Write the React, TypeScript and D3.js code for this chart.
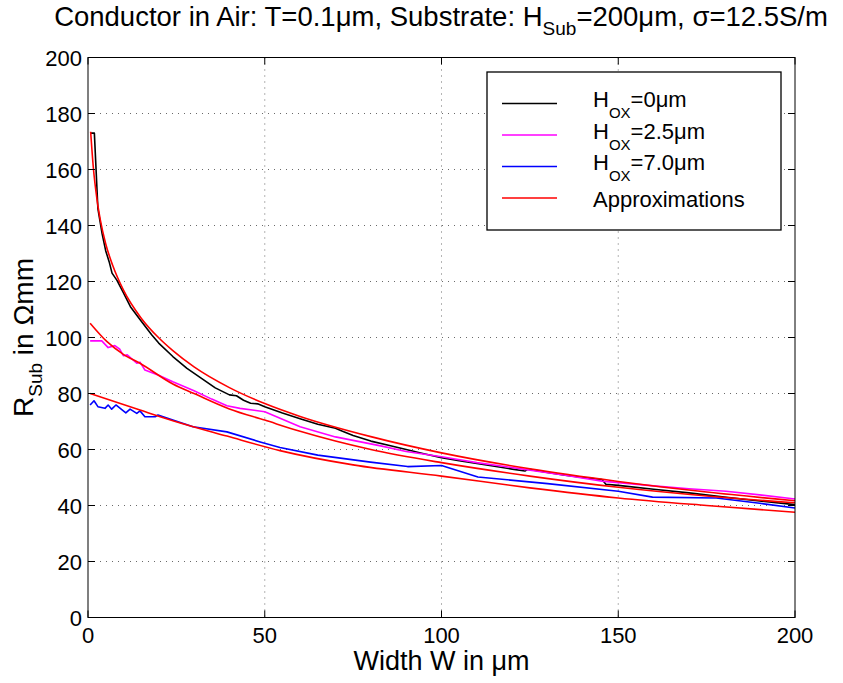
import React from "react";
import * as d3 from "d3";

// ---------- data ----------
const xTicks = [0, 50, 100, 150, 200];
const yTicks = [0, 20, 40, 60, 80, 100, 120, 140, 160, 180, 200];

const seriesNames = ["=0\u03bcm", "=2.5\u03bcm", "=7.0\u03bcm", "Approximations"];
const seriesColors = ["#000000", "#ff00ff", "#0000ff", "#ff0000"];

// H_OX = 0 um  (width W, R_sub)
const hox0: [number, number][] = [
  [0.6, 173], [1.8, 173], [2.8, 146], [4, 137], [5, 131], [6, 127], [6.8, 123],
  [8.2, 120.4], [10, 116], [12, 111], [14.7, 106.4], [18, 101], [20, 98],
  [24, 93.2], [28, 89], [32, 85.5], [36, 82], [40, 79.5], [42, 79.2], [44, 77.6],
  [46, 76.5], [48, 76.3], [50, 75.3], [55, 73], [60, 71], [65, 69], [70, 67.6],
  [72, 66.5], [75, 65], [80, 63], [85, 61.5], [90, 60], [95, 58.5], [100, 57.1],
  [105, 56], [110, 55], [115, 54], [120, 53], [123.6, 52.3], [124.5, 53],
  [130, 51.8], [135, 50.8], [140, 50], [145.4, 49.3], [146.5, 47.6], [150, 47.2],
  [160, 45.8], [170, 44.5], [180, 43], [190, 41.6], [200, 40.3],
];

// H_OX = 2.5 um
const hox25: [number, number][] = [
  [0.6, 98.8], [3.9, 98.8], [5.7, 96.4], [7.6, 97.1], [9, 95.8], [10, 93.5],
  [11.1, 93.8], [13.8, 90.8], [14.7, 91.2], [16.1, 88.4], [20, 86.5], [24, 84.2],
  [30, 81], [35, 78], [39.3, 75.6], [43, 74.7], [47, 74], [50, 73.5], [55, 70.8],
  [60, 68.1], [70, 64.5], [82.8, 61.3], [90, 59.3], [100, 57.4], [110, 55.3],
  [123.6, 52.9], [135, 50.8], [145.4, 48.7], [160, 47], [170, 46], [180.5, 45.1],
  [190, 43.8], [200, 42.3],
];

// H_OX = 7.0 um
const hox70: [number, number][] = [
  [0.6, 75.9], [1.7, 77.4], [2.8, 75.3], [4.8, 74.7], [5.7, 75.9], [6.7, 74.4],
  [7.9, 75.9], [10.7, 73.1], [11.9, 74.4], [13.8, 72.9], [14.7, 73.8], [16.1, 71.7],
  [19, 71.7], [19.8, 72.3], [24, 70.5], [29.7, 68.1], [39.3, 66.3], [48.7, 62.7],
  [54.3, 60.7], [65, 58], [79.9, 55.5], [90.4, 53.9], [100, 54.3], [110.3, 50.2],
  [130, 47.8], [150, 45.1], [159.7, 43], [177.7, 42.7], [190, 40.8], [200, 39.1],
];

// approximations
const approx0: [number, number][] = [
  [0.75, 173.5], [1.5, 160.8], [2.5, 149.7], [3.5, 141.9], [5, 133.5], [7, 125.7],
  [10, 117], [15, 107], [20, 99.9], [24, 95.3], [30, 89.5], [40, 82.1], [50, 76.4],
  [60, 71.8], [80, 64.6], [100, 58.8], [125, 53.1], [150, 48.6], [175, 44.8], [200, 41.7],
];
const approx25: [number, number][] = [
  [0.6, 105.1], [5.3, 98.6], [10, 94], [14.7, 90.8], [24, 83.4], [30, 80],
  [40, 74.5], [50, 70.5], [60, 66.5], [80, 60], [100, 55.3], [125, 50.5],
  [150, 46.5], [175, 43.4], [200, 41],
];
const approx70: [number, number][] = [
  [0.6, 80], [14.7, 74.1], [24, 70.3], [39.3, 64.8], [54.3, 59.6], [75, 54.5],
  [100, 50.5], [125, 46.3], [150, 42.7], [175, 40], [200, 37.6],
];

const FONT = "'Liberation Sans', Arial, Helvetica, sans-serif";

export default function App() {
  const width = 843;
  const height = 683;
  const left = 88, right = 795, top = 57.5, bottom = 617.5;

  const x = d3.scaleLinear().domain([0, 200]).range([left, right]);
  const y = d3.scaleLinear().domain([0, 200]).range([bottom, top]);

  const lin = d3.line<[number, number]>().x((d) => x(d[0])).y((d) => y(d[1]));
  const smooth = d3
    .line<[number, number]>()
    .x((d) => x(d[0]))
    .y((d) => y(d[1]))
    .curve(d3.curveMonotoneX);

  const tickLen = 7;
  const legX = 487, legY = 72, legW = 294, legH = 158;
  const rowY = [103.5, 135, 166.5, 198];

  return (
    <svg
      width={width}
      height={height}
      style={{ position: "absolute", left: 0, top: 0, background: "#fff" }}
      fontFamily={FONT}
    >
      <rect x={0} y={0} width={width} height={height} fill="#fff" />

      {/* grid */}
      <g stroke="#444" strokeWidth={0.8} strokeDasharray="1 5">
        {xTicks.slice(1, -1).map((t) => (
          <line key={"gx" + t} x1={x(t)} x2={x(t)} y1={top} y2={bottom} />
        ))}
        {yTicks.slice(1, -1).map((t) => (
          <line key={"gy" + t} x1={left} x2={right} y1={y(t)} y2={y(t)} />
        ))}
      </g>

      {/* data */}
      <g fill="none" strokeWidth={1.6} strokeLinejoin="round">
        <path d={lin(hox0) || ""} stroke={seriesColors[0]} />
        <path d={lin(hox25) || ""} stroke={seriesColors[1]} />
        <path d={lin(hox70) || ""} stroke={seriesColors[2]} />
        <path d={smooth(approx0) || ""} stroke={seriesColors[3]} />
        <path d={smooth(approx25) || ""} stroke={seriesColors[3]} />
        <path d={smooth(approx70) || ""} stroke={seriesColors[3]} />
      </g>

      {/* axes box + ticks */}
      <rect x={left} y={top} width={right - left} height={bottom - top} fill="none" stroke="#000" strokeWidth={1} />
      <g stroke="#000" strokeWidth={1}>
        {xTicks.map((t) => (
          <g key={"tx" + t}>
            <line x1={x(t)} x2={x(t)} y1={bottom} y2={bottom - tickLen} />
            <line x1={x(t)} x2={x(t)} y1={top} y2={top + tickLen} />
          </g>
        ))}
        {yTicks.map((t) => (
          <g key={"ty" + t}>
            <line x1={left} x2={left + tickLen} y1={y(t)} y2={y(t)} />
            <line x1={right} x2={right - tickLen} y1={y(t)} y2={y(t)} />
          </g>
        ))}
      </g>

      {/* tick labels */}
      <g fontSize={22} fill="#000">
        {xTicks.map((t) => (
          <text key={"lx" + t} x={x(t)} y={bottom + 25} textAnchor="middle">
            {t}
          </text>
        ))}
        {yTicks.map((t) => (
          <text key={"ly" + t} x={left - 6} y={y(t) + 8} textAnchor="end">
            {t}
          </text>
        ))}
      </g>

      {/* axis labels */}
      <text x={(left + right) / 2} y={670} textAnchor="middle" fontSize={27}>
        Width W in {"\u03bc"}m
      </text>
      <text
        transform={`translate(33, ${(top + bottom) / 2}) rotate(-90)`}
        textAnchor="middle"
        fontSize={28}
      >
        R<tspan fontSize={19} dy={9}>Sub</tspan>
        <tspan dy={-9}> in {"\u03a9"}mm</tspan>
      </text>

      {/* title */}
      <text x={441} y={26} textAnchor="middle" fontSize={27.5}>
        Conductor in Air: T=0.1{"\u03bc"}m, Substrate: H
        <tspan fontSize={19} dy={9}>Sub</tspan>
        <tspan dy={-9}>=200{"\u03bc"}m, {"\u03c3"}=12.5S/m</tspan>
      </text>

      {/* legend */}
      <rect x={legX} y={legY} width={legW} height={legH} fill="#fff" stroke="#000" strokeWidth={1.3} />
      {seriesNames.map((name, i) => (
        <g key={"leg" + i}>
          <line x1={502} x2={557} y1={rowY[i]} y2={rowY[i]} stroke={seriesColors[i]} strokeWidth={1.6} />
          {i < 3 ? (
            <text x={593} y={rowY[i] + 3.5} fontSize={22}>
              H<tspan fontSize={15} dy={11}>OX</tspan>
              <tspan dy={-11}>{name}</tspan>
            </text>
          ) : (
            <text x={593} y={rowY[i] + 8.5} fontSize={22}>
              {name}
            </text>
          )}
        </g>
      ))}
    </svg>
  );
}
